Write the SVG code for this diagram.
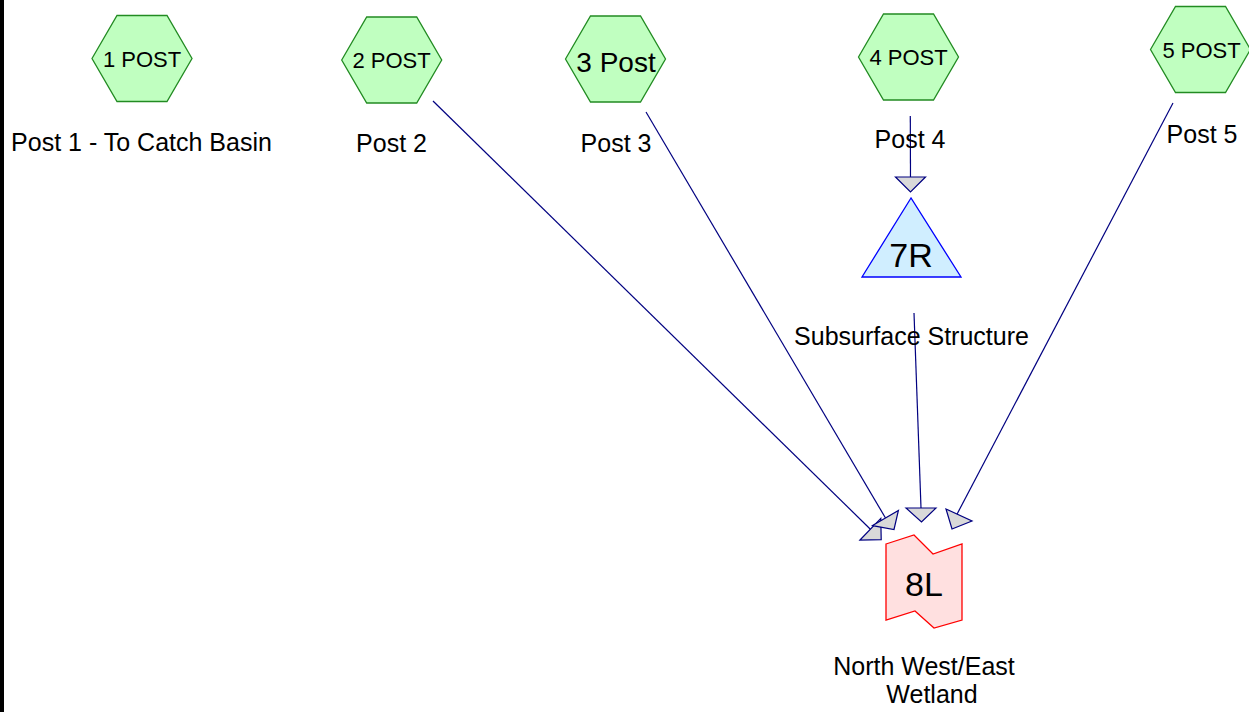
<svg xmlns="http://www.w3.org/2000/svg" width="1249" height="712" viewBox="0 0 1249 712">
  <style>
    text { font-family: "Liberation Sans", Arial, sans-serif; fill: #000; text-anchor: middle; }
    .post { fill: #c0ffc0; stroke: #228b22; stroke-width: 1.3; }
    .hexlabel { font-size: 22px; }
    .caption { font-size: 25px; }
    .big { font-size: 34px; }
    .link { stroke: #000080; stroke-width: 1.2; fill: none; }
    .head { fill: #d9d9d9; stroke: #000080; stroke-width: 1.2; stroke-linejoin: miter; }
  </style>
  <defs>
    <!-- regular hexagon, pointy left/right, centred on origin -->
    <polygon id="hex" points="-50,0 -25,-43 25,-43 50,0 25,43 -25,43"/>
  </defs>

  <rect x="0" y="0" width="1249" height="712" fill="#fff"/>
  <rect x="0" y="0" width="4" height="712" fill="#000"/>

  <!-- connectors -->
  <g id="connectors">
    <line class="link" x1="433" y1="101" x2="870.4" y2="529.2"/>
    <polygon class="head" points="860,540 880.8,518.4 881.2,539.6"/>

    <line class="link" x1="646" y1="112" x2="885.5" y2="518"/>
    <polygon class="head" points="872.6,525.6 898.4,510.4 894,529.5"/>

    <line class="link" x1="910.3" y1="116" x2="910.5" y2="177"/>
    <polygon class="head" points="895.5,177 925.5,177 910.5,192"/>

    <line class="link" x1="914" y1="313" x2="921" y2="508"/>
    <polygon class="head" points="906,508 936,508 921.5,522"/>

    <line class="link" x1="1173" y1="103" x2="955" y2="518"/>
    <polygon class="head" points="946,509 952,529 972,521"/>
  </g>

  <g id="post1">
    <use href="#hex" class="post" x="142" y="58.5"/>
    <text class="hexlabel" x="142" y="67">1 POST</text>
    <text class="caption" x="141.5" y="151">Post 1 - To Catch Basin</text>
  </g>

  <g id="post2">
    <use href="#hex" class="post" x="391.7" y="60"/>
    <text class="hexlabel" x="391.5" y="68">2 POST</text>
    <text class="caption" x="391.5" y="152">Post 2</text>
  </g>

  <g id="post3">
    <use href="#hex" class="post" x="615.5" y="59"/>
    <text x="616" y="71.5" style="font-size:28px">3 Post</text>
    <text class="caption" x="616" y="152">Post 3</text>
  </g>

  <g id="post4">
    <use href="#hex" class="post" x="908.5" y="57"/>
    <text class="hexlabel" x="908.5" y="65">4 POST</text>
    <text class="caption" x="910" y="148">Post 4</text>
  </g>

  <g id="post5">
    <use href="#hex" class="post" x="1200.5" y="49.5"/>
    <text class="hexlabel" x="1201.5" y="58">5 POST</text>
    <text class="caption" x="1202" y="143">Post 5</text>
  </g>

  <g id="structure7R">
    <polygon points="911,198 862,277 961,277" fill="#d0eeff" stroke="#0000ff" stroke-width="1.3"/>
    <text class="big" x="911" y="267">7R</text>
    <text class="caption" x="911.5" y="345">Subsurface Structure</text>
  </g>

  <g id="wetland8L">
    <polygon points="886,544 914,535 933,554 962,544 962,620 934,628 915,611 886,620" fill="#ffe0e0" stroke="#ff0000" stroke-width="1.3"/>
    <text class="big" x="924" y="596">8L</text>
    <text class="caption" x="924" y="675">North West/East</text>
    <text class="caption" x="932" y="703">Wetland</text>
  </g>
</svg>
